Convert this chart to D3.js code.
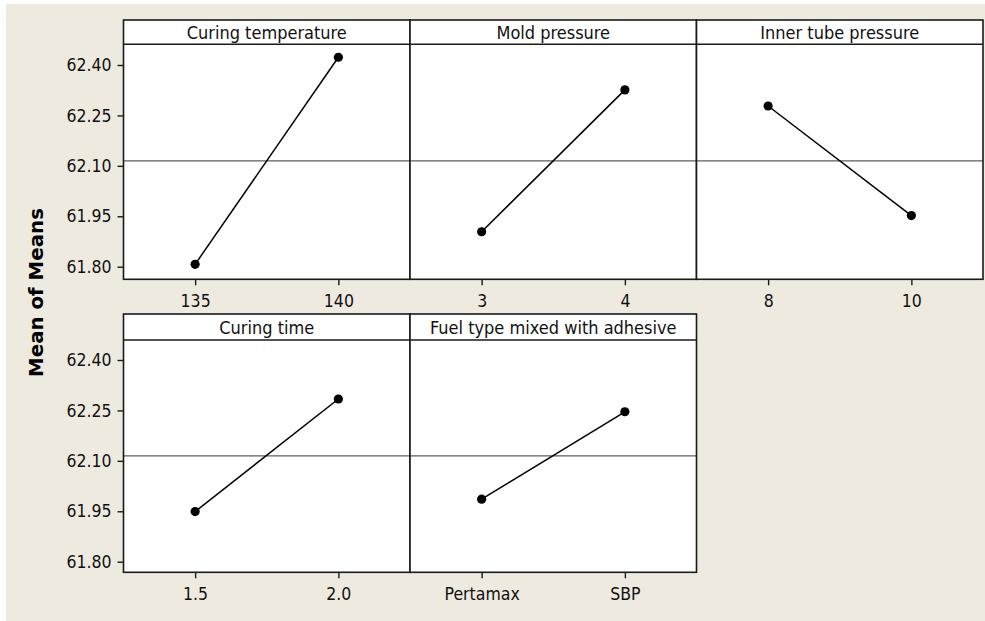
<!DOCTYPE html>
<html>
<head>
<meta charset="utf-8">
<script src="https://cdn.jsdelivr.net/npm/d3@7"></script>
<style>
  html, body { margin: 0; padding: 0; background: #fff; }
  svg { display: block; }
  .lbl { font-family: 'DejaVu Sans Condensed', 'DejaVu Sans', sans-serif; font-stretch: condensed; }
</style>
</head>
<body>
<svg id="chart"></svg>
<script>
// main effects plot for means
const factors = ['Curing temperature', 'Mold pressure', 'Inner tube pressure', 'Curing time', 'Fuel type mixed with adhesive'];
const levels = [['135', '140'], ['3', '4'], ['8', '10'], ['1.5', '2.0'], ['Pertamax', 'SBP']];
const means = [
  [61.807, 62.423],
  [61.904, 62.326],
  [62.278, 61.952],
  [61.949, 62.284],
  [61.986, 62.246],
];
const grandMean = 62.115;
const yTicks = [61.8, 61.95, 62.1, 62.25, 62.4];

const width = 985;
const height = 621;
const panelLeft = 123.5;
const panelW = 286.5;
const cols = 3;
// rows: top of header, bottom of header, bottom of plot, pixel spots of first/last tick
const rows = [
  { top: 20, head: 44.3, bottom: 279.3, yTop: 65, yBot: 266.7 },
  { top: 314, head: 340, bottom: 572.3, yTop: 360, yBot: 561.7 },
];

const svg = d3.select('#chart').attr('width', width).attr('height', height);

svg.append('rect')
  .attr('x', 6).attr('y', 4)
  .attr('width', width - 6).attr('height', height - 4)
  .attr('fill', '#eeeae0');

factors.forEach((name, i) => {
  const r = rows[Math.floor(i / cols)];
  const c = i % cols;
  const x0 = panelLeft + c * panelW;
  const g = svg.append('g');

  const x = d3.scalePoint(levels[i], [x0, x0 + panelW]).padding(0.5);
  const y = d3.scaleLinear([yTicks[0], yTicks[yTicks.length - 1]], [r.yBot, r.yTop]);

  // panel background
  g.append('rect')
    .attr('x', x0).attr('y', r.top)
    .attr('width', panelW).attr('height', r.bottom - r.top)
    .attr('fill', '#fff');

  // grand mean line
  g.append('line')
    .attr('x1', x0).attr('x2', x0 + panelW)
    .attr('y1', y(grandMean)).attr('y2', y(grandMean))
    .attr('stroke', '#5e5e5e')
    .attr('stroke-width', 1.3);

  const line = d3.line()
    .x((d, j) => x(levels[i][j]))
    .y((d) => y(d));
  g.append('path')
    .attr('d', line(means[i]))
    .attr('fill', 'none')
    .attr('stroke', '#000')
    .attr('stroke-width', 1.5);

  g.selectAll('circle')
    .data(means[i])
    .join('circle')
    .attr('cx', (d, j) => x(levels[i][j]))
    .attr('cy', (d) => y(d))
    .attr('r', 4.6)
    .attr('fill', '#000');

  // frame + header
  g.append('rect')
    .attr('x', x0).attr('y', r.top)
    .attr('width', panelW).attr('height', r.bottom - r.top)
    .attr('fill', 'none')
    .attr('stroke', '#1a1a1a')
    .attr('stroke-width', 1.6);
  g.append('line')
    .attr('x1', x0).attr('x2', x0 + panelW)
    .attr('y1', r.head).attr('y2', r.head)
    .attr('stroke', '#1a1a1a')
    .attr('stroke-width', 1.6);

  g.append('text')
    .attr('class', 'lbl')
    .attr('x', x0 + panelW / 2)
    .attr('y', (r.top + r.head) / 2 + 6.5)
    .attr('text-anchor', 'middle')
    .attr('font-size', 18)
    .attr('fill', '#111')
    .text(name);

  // x axis
  g.append('g')
    .attr('transform', `translate(0,${r.bottom})`)
    .call(d3.axisBottom(x).tickSize(6).tickPadding(9).tickSizeOuter(0))
    .call((a) => a.select('.domain').remove())
    .call((a) => a.selectAll('.tick line').attr('stroke', '#1a1a1a').attr('stroke-width', 1.4))
    .call((a) => a.selectAll('.tick text').attr('class', 'lbl').attr('font-size', 17.5).attr('fill', '#111'))
    .attr('font-family', null);

  // y axis only on first column
  if (c === 0) {
    g.append('g')
      .attr('transform', `translate(${x0},0)`)
      .call(d3.axisLeft(y).tickValues(yTicks).tickFormat(d3.format('.2f')).tickSize(6).tickPadding(6).tickSizeOuter(0))
      .call((a) => a.select('.domain').remove())
      .call((a) => a.selectAll('.tick line').attr('stroke', '#1a1a1a').attr('stroke-width', 1.4))
      .call((a) => a.selectAll('.tick text').attr('class', 'lbl').attr('font-size', 17.5).attr('fill', '#111'))
      .attr('font-family', null);
  }
});

svg.append('text')
  .attr('transform', 'translate(43,292.5) rotate(-90)')
  .attr('text-anchor', 'middle')
  .attr('font-family', "'DejaVu Sans', sans-serif")
  .attr('font-weight', 'bold')
  .attr('font-size', 19.8)
  .attr('fill', '#000')
  .text('Mean of Means');
</script>
</body>
</html>
